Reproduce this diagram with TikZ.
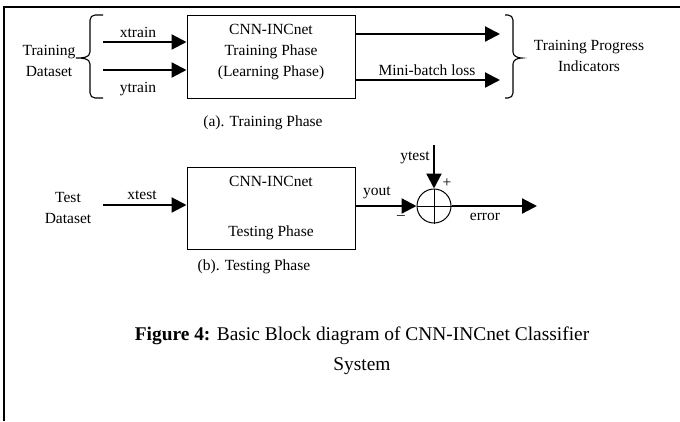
\documentclass[tikz,border=0pt]{standalone}
\usepackage{fontspec}
\setmainfont{Liberation Serif}
\usetikzlibrary{arrows.meta}
\begin{document}
\begin{tikzpicture}[x=1pt,y=-1pt,
  lbl/.style={font=\fontsize{15.5}{21}\selectfont, inner sep=0pt, align=center},
  blk/.style={draw, line width=1pt, inner sep=0pt},
  arr/.style={line width=2.2pt, -{Triangle[length=15pt,width=15pt]}},
  brc/.style={line width=1.1pt},
  sumj/.style={draw, circle, line width=1pt, minimum size=34pt, inner sep=0pt}]
\useasboundingbox (0,0) rectangle (680,421);
% frame
\draw[line width=2pt] (4,421) -- (4,7) -- (680,7);
% ---- training phase ----
\node[lbl] (td) at (49,61) {Training\\Dataset};
\draw[brc] (103,15) -- (95,15) to[out=180,in=90] (90,20) -- (90,52) to[out=-90,in=0] (76,58)
  to[out=0,in=90] (90,64) -- (90,93) to[out=-90,in=180] (95,98) -- (103,98);
\node[blk, minimum width=168pt, minimum height=83pt] (b1) at (271,56.5) {};
\node[lbl] (b1t) at (271,52.5) {CNN-INCnet\\Training Phase\\(Learning Phase)};
\coordinate (xs) at (103,42);
\coordinate (ys) at (103,70);
\draw[arr] (xs) -- (xs -| b1.west);
\draw[arr] (ys) -- (ys -| b1.west);
\node[lbl] (xtr) at (138,32) {xtrain};
\node[lbl] (ytr) at (138,89) {ytrain};
\coordinate (o1) at (500,34);
\coordinate (o2) at (500,80);
\draw[arr] (o1 -| b1.east) -- (o1);
\draw[arr] (o2 -| b1.east) -- (o2);
\node[lbl] (mbl) at (427,70) {Mini-batch loss};
\draw[brc] (505,15) -- (508,15) to[out=0,in=90] (513,20) -- (513,52) to[out=-90,in=180] (522,58)
  to[out=180,in=90] (513,64) -- (513,93) to[out=-90,in=0] (508,98) -- (505,98);
\node[lbl] (tpi) at (589,56) {Training Progress\\Indicators};
\node[lbl] (capa) at (263,123) {(a). Training Phase};
% ---- testing phase ----
\node[lbl] (tsd) at (68,208) {Test\\Dataset};
\node[blk, lbl, minimum width=168pt, minimum height=82pt] (b2) at (271,208) {CNN-INCnet\\[29pt]Testing Phase};
\coordinate (xt) at (103,205);
\draw[arr] (xt) -- (xt -| b2.west);
\node[lbl] (xtl) at (142,195) {xtest};
\node[lbl] (capb) at (254,267) {(b). Testing Phase};
\node[sumj] (sum) at (434,206) {};
\draw[line width=1pt] (sum.north) -- (sum.south) (sum.west) -- (sum.east);
\draw[arr] (sum -| b2.east) -- (sum.west);
\coordinate (yt) at (434,145);
\draw[arr] (yt) -- (sum.north);
\coordinate (er) at (537,206);
\draw[arr] (sum.east) -- (er);
\node[lbl] (yo) at (377,193) {yout};
\node[lbl] (ytl) at (415,158) {ytest};
\node[lbl] (erl) at (485,217) {error};
\node[lbl] (pl) at (447,183) {+};
\node[lbl] (mi) at (401,217) {\textendash};
% ---- caption ----
\node[font=\fontsize{19.4}{30}\selectfont, align=center, inner sep=0pt] (cap) at (362,351)
  {\textbf{Figure 4:} Basic Block diagram of CNN-INCnet Classifier\\System};
\end{tikzpicture}
\end{document}
